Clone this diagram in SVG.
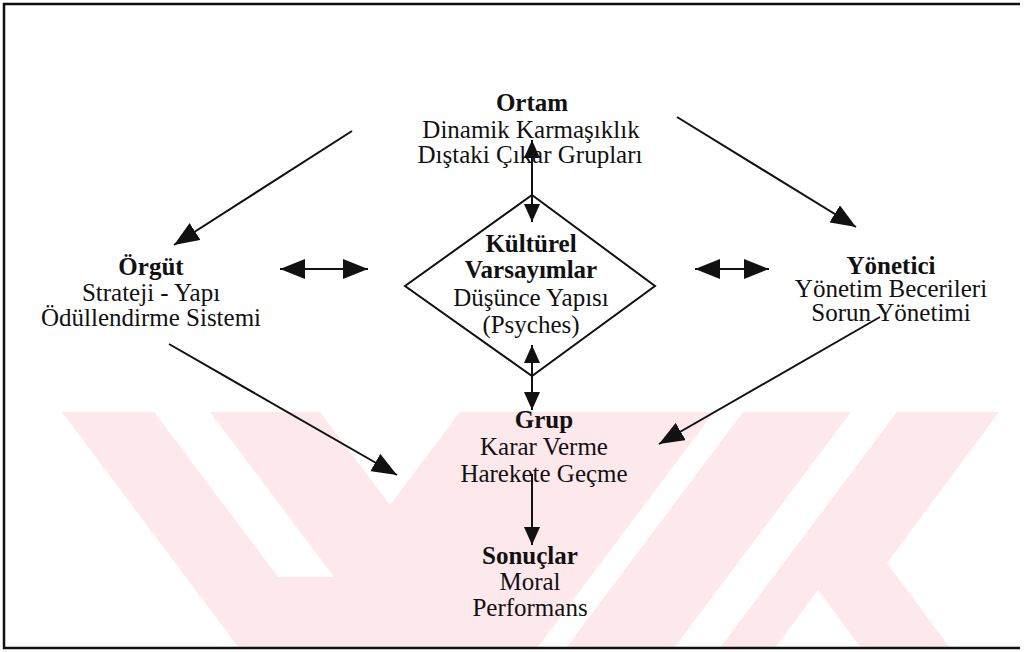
<svg xmlns="http://www.w3.org/2000/svg" width="1027" height="652" viewBox="0 0 1027 652">
  <defs>
    <style>
      text { font-family: "Liberation Serif", "Times New Roman", serif; font-size: 25px; fill: #111; text-anchor: middle; }
      .b { font-weight: bold; }
      .ln { stroke: #111; stroke-width: 2; fill: none; }
      .wm { fill: #fde8ec; }
      .gap { fill: #ffffff; }
      .frame { stroke: #111; stroke-width: 2.5; fill: none; }
    </style>
    <marker id="ah" viewBox="0 0 10 10" refX="10" refY="5" markerWidth="25" markerHeight="20" markerUnits="userSpaceOnUse" orient="auto-start-reverse" preserveAspectRatio="none">
      <path d="M0,0 L10,5 L0,10 z" fill="#111"/>
    </marker>
    <marker id="as" viewBox="0 0 10 10" refX="10" refY="5" markerWidth="18" markerHeight="16" markerUnits="userSpaceOnUse" orient="auto-start-reverse" preserveAspectRatio="none">
      <path d="M0,0 L10,5 L0,10 z" fill="#111"/>
    </marker>
  </defs>

  <rect width="1027" height="652" fill="#ffffff"/>

  <!-- faint striped emblem behind the lower half -->
  <g id="emblem">
    <polygon class="wm" points="62,412 320,412 390,505 460,412 714,412 537,648 239,648"/>
    <polygon class="gap" points="154,412 210,412 334,577 278,577"/>
    <polygon class="wm" points="743,412 851,412 674,648 566,648"/>
    <polygon class="wm" points="897,412 999,412 887,563 950,648 861,648 818,590 775,648 720,648"/>
  </g>

  <!-- outer frame -->
  <g id="frame">
    <polyline class="frame" points="1020,4 4,4 4,648 1020,648"/>
  </g>

  <!-- connectors -->
  <g id="connectors">
    <line class="ln" x1="352" y1="131" x2="174" y2="245" marker-end="url(#ah)"/>
    <line class="ln" x1="677" y1="117" x2="856" y2="227" marker-end="url(#ah)"/>
    <line class="ln" x1="280" y1="269" x2="368" y2="269" marker-start="url(#ah)" marker-end="url(#ah)"/>
    <line class="ln" x1="695" y1="269" x2="769" y2="269" marker-start="url(#ah)" marker-end="url(#ah)"/>
    <line class="ln" x1="532" y1="140" x2="532" y2="222" marker-start="url(#as)" marker-end="url(#as)"/>
    <line class="ln" x1="532" y1="345" x2="532" y2="410" marker-start="url(#as)" marker-end="url(#as)"/>
    <line class="ln" x1="169" y1="344" x2="397" y2="475" marker-end="url(#ah)"/>
    <line class="ln" x1="880" y1="317" x2="659" y2="444" marker-end="url(#ah)"/>
    <line class="ln" x1="532" y1="474" x2="532" y2="545" marker-end="url(#as)"/>
  </g>

  <!-- nodes -->
  <g id="ortam">
    <text class="b" x="532" y="111">Ortam</text>
    <text x="531" y="138">Dinamik Karmaşıklık</text>
    <text x="530" y="163">Dıştaki Çıkar Grupları</text>
  </g>

  <g id="orgut">
    <text class="b" x="151" y="275">Örgüt</text>
    <text x="151" y="301">Strateji - Yapı</text>
    <text x="151" y="326">Ödüllendirme Sistemi</text>
  </g>

  <g id="kulturel">
    <polygon class="ln" points="532,195 655,286 532,376 405,286"/>
    <text class="b" x="531" y="252">Kültürel</text>
    <text class="b" x="531" y="278">Varsayımlar</text>
    <text x="531" y="306">Düşünce Yapısı</text>
    <text x="531" y="333">(Psyches)</text>
  </g>

  <g id="yonetici">
    <text class="b" x="891" y="274">Yönetici</text>
    <text x="891" y="297">Yönetim Becerileri</text>
    <text x="891" y="321">Sorun Yönetimi</text>
  </g>

  <g id="grup">
    <text class="b" x="544" y="428">Grup</text>
    <text x="544" y="455">Karar Verme</text>
    <text x="544" y="482">Harekete Geçme</text>
  </g>

  <g id="sonuclar">
    <text class="b" x="530" y="564">Sonuçlar</text>
    <text x="530" y="590">Moral</text>
    <text x="530" y="616">Performans</text>
  </g>
</svg>
